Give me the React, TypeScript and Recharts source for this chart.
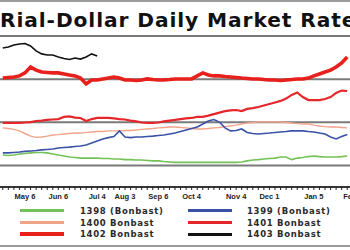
import React from 'react';
import { LineChart, Line, XAxis, YAxis, CartesianGrid } from 'recharts';

// x steps (roughly 5-day steps through the year)
const steps = [0,1,2,3,4,5,6,7,8,9,10,11,12,13,14,15,16,17,18,19,20,21,22,23,24,25,26,27,28,29,30,31,32,33,34,35,36,37,38,39,40,41,42,43,44,45,46,47,48,49,50,51,52,53,54,55,56,57,58,59,60,61,62];

const tickLabels: Record<number, string> = {
  4: 'May 6', 10: 'Jun 6', 17: 'Jul 4', 22: 'Aug 3', 28: 'Sep 6',
  34: 'Oct 4', 42: 'Nov 4', 48: 'Dec 1', 56: 'Jan 5', 62: 'Feb 4',
};

const yTicks = [0, 100, 200, 300, 400, 500, 600, 700];

// thousand rials per dollar
const r1398 = [148,146,148,153,155,158,160,160,158,153,148,144,139,137,134,134,134,134,132,132,130,130,127,127,125,125,123,121,121,118,116,114,114,114,114,114,114,114,114,114,114,114,114,116,121,125,127,130,132,134,139,139,127,134,137,141,144,141,139,139,139,141,144];
const r1399 = [158,158,160,162,165,167,169,172,174,176,181,183,185,188,190,195,204,213,223,229,234,260,232,229,232,232,234,236,239,241,246,250,257,264,271,278,292,306,313,301,274,260,262,269,253,248,246,248,250,253,255,257,260,260,260,257,255,250,246,232,223,234,243];
const r1400 = [274,271,267,260,248,236,230,232,236,241,243,246,248,250,250,253,255,257,257,260,260,260,262,262,264,267,269,271,274,276,278,278,276,274,271,269,269,271,274,276,280,283,287,292,297,299,301,301,301,301,301,299,297,294,292,292,287,283,280,278,278,276,274];
const r1401 = [297,297,297,297,299,301,306,308,311,313,315,325,327,322,320,306,315,320,320,320,318,315,313,308,304,299,297,297,299,304,308,311,315,318,320,325,325,331,338,345,352,355,357,352,362,366,371,378,385,392,399,410,427,438,417,403,403,403,408,417,436,447,445];
const r1402 = [505,508,510,515,529,556,542,533,531,529,529,524,519,515,505,478,496,496,501,505,510,505,496,496,494,496,501,498,496,496,498,501,501,501,501,515,529,519,515,515,512,510,508,505,503,501,501,498,496,496,494,496,498,501,501,505,515,524,533,542,556,575,603];
const r1403 = [644,649,658,663,665,654,631,617,612,612,603,596,591,598,593,603,617,607];

const series = [
  { key: 'r1398', name: '1398 (Bonbast)', color: '#72c257', width: 1.6, legendWidth: 2.5 },
  { key: 'r1400', name: '1400 Bonbast', color: '#f2a48a', width: 1.4, legendWidth: 2.5 },
  { key: 'r1399', name: '1399 (Bonbast)', color: '#3a52a6', width: 1.6, legendWidth: 2.5 },
  { key: 'r1401', name: '1401 Bonbast', color: '#e5262a', width: 2.2, legendWidth: 3 },
  { key: 'r1402', name: '1402 Bonbast', color: '#e8201c', width: 3.6, legendWidth: 4.5 },
  { key: 'r1403', name: '1403 Bonbast', color: '#111111', width: 1.6, legendWidth: 3 },
];

const legendLeft = ['r1398', 'r1400', 'r1402'];
const legendRight = ['r1399', 'r1401', 'r1403'];

const data = steps.map((s, i) => ({
  s,
  r1398: r1398[i],
  r1399: r1399[i],
  r1400: r1400[i],
  r1401: r1401[i],
  r1402: r1402[i],
  r1403: i < r1403.length ? r1403[i] : null,
}));

const Tick = (props: any) => {
  const { x, y, payload } = props;
  const label = tickLabels[payload.value];
  if (!label) return <g />;
  const last = payload.value === steps[steps.length - 1];
  return (
    <text
      x={last ? x - 4 : x}
      y={y}
      dy={7}
      textAnchor={last ? 'start' : 'middle'}
      fontFamily="'Liberation Sans', Arial, sans-serif"
      fontWeight="bold"
      fontSize={7.5}
      fill="#222"
    >
      {label}
    </text>
  );
};

const rowsY = [210.5, 222.5, 234];

const LegendColumn = ({ keys, lineX, textX }: { keys: string[]; lineX: number; textX: number }) => (
  <>
    {keys.map((k, i) => {
      const s = series.find((q) => q.key === k)!;
      return (
        <React.Fragment key={k}>
          <div
            style={{
              position: 'absolute',
              left: lineX,
              top: rowsY[i] - s.legendWidth / 2,
              width: 44,
              height: s.legendWidth,
              background: s.color,
            }}
          />
          <div
            style={{
              position: 'absolute',
              left: textX,
              top: rowsY[i] - 6,
              fontFamily: "'DejaVu Sans', sans-serif",
              fontWeight: 'bold',
              fontSize: 8.5,
              lineHeight: '12px',
              letterSpacing: 0.7,
              color: '#2a2a2a',
              whiteSpace: 'nowrap',
            }}
          >
            {s.name}
          </div>
        </React.Fragment>
      );
    })}
  </>
);

export default function App() {
  return (
    <div
      style={{
        position: 'absolute',
        left: 0,
        top: 0,
        width: 350,
        height: 250,
        overflow: 'hidden',
        background: '#fff',
      }}
    >
      <LineChart width={350} height={250} data={data} margin={{ top: 36, right: 0, bottom: 43, left: 0 }}>
        <CartesianGrid vertical={false} stroke="#7a7a7a" strokeWidth={2} />
        <YAxis hide domain={[0, 700]} ticks={yTicks} />
        <XAxis
          dataKey="s"
          type="number"
          domain={[-0.5, 62.5]}
          ticks={steps}
          interval={0}
          height={20}
          tick={<Tick />}
          tickSize={3}
          axisLine={{ stroke: '#222', strokeWidth: 1.5 }}
          tickLine={{ stroke: '#222' }}
        />
        {series.map((s) => (
          <Line
            key={s.key}
            dataKey={s.key}
            type="linear"
            stroke={s.color}
            strokeWidth={s.width}
            dot={false}
            isAnimationActive={false}
            connectNulls={false}
          />
        ))}
      </LineChart>
      <div style={{ position: 'absolute', left: 0, top: 0, width: 350, height: 2, background: '#9a9a9a' }} />
      <div style={{ position: 'absolute', left: 0, top: 245, width: 350, height: 2, background: '#9a9a9a' }} />
      <div
        style={{
          position: 'absolute',
          left: 0,
          top: 10,
          fontFamily: "'DejaVu Sans', sans-serif",
          fontWeight: 'bold',
          fontSize: 20.2,
          lineHeight: 1,
          letterSpacing: 0.9,
          color: '#111',
          whiteSpace: 'nowrap',
        }}
      >
        Rial-Dollar Daily Market Rates
      </div>
      <LegendColumn keys={legendLeft} lineX={20} textX={80} />
      <LegendColumn keys={legendRight} lineX={188} textX={247} />
    </div>
  );
}
